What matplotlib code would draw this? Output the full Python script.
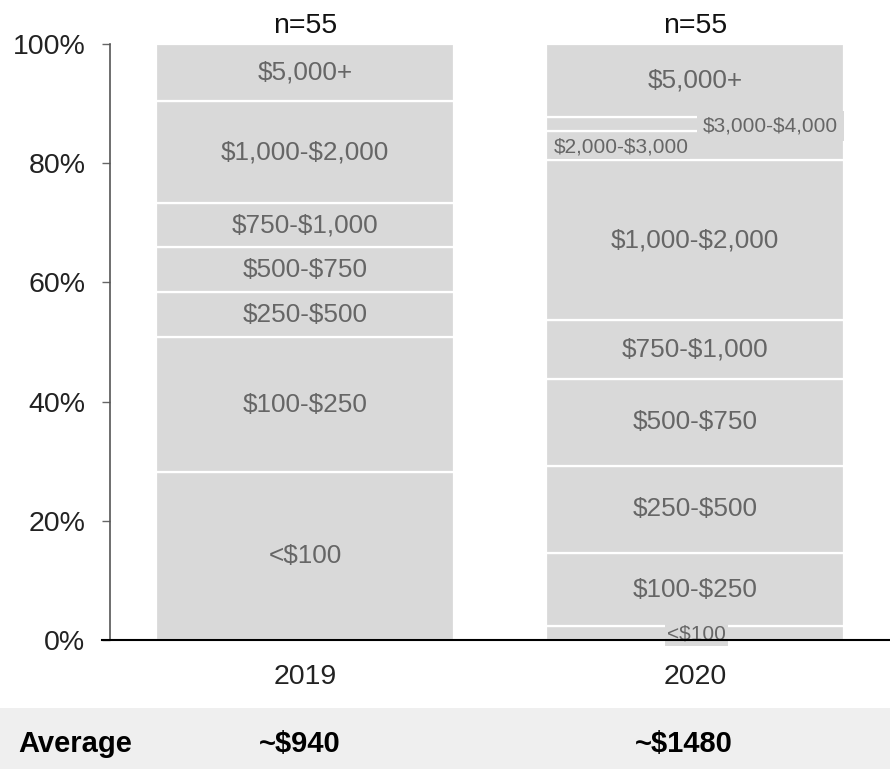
import matplotlib
matplotlib.use("Agg")
import matplotlib.pyplot as plt
from matplotlib.patches import Rectangle
from matplotlib.lines import Line2D

plt.rcParams['font.family'] = ['Liberation Sans', 'DejaVu Sans']
plt.rcParams['text.parse_math'] = False

years = ["2019", "2020"]
sample_sizes = ["n=55", "n=55"]
averages = ["~$940", "~$1480"]

# Share of respondents (%) by spend bracket, bottom to top
labels_2019 = ["<$100", "$100-$250", "$250-$500", "$500-$750", "$750-$1,000",
               "$1,000-$2,000", "$5,000+"]
shares_2019 = [28.2, 22.6, 7.6, 7.5, 7.4, 17.1, 9.6]

labels_2020 = ["<$100", "$100-$250", "$250-$500", "$500-$750", "$750-$1,000",
               "$1,000-$2,000", "$2,000-$3,000", "$3,000-$4,000", "$5,000+"]
shares_2020 = [2.3, 12.3, 14.6, 14.6, 9.9, 26.8, 4.9, 2.4, 12.2]

BAR = "#d9d9d9"
TXT = "#666666"

fig = plt.figure(figsize=(8.9, 7.69), dpi=100)
ax = fig.add_axes([110 / 890, 1 - 640 / 769, 780 / 890, 596 / 769])
ax.set_xlim(-0.5, 1.5)
ax.set_ylim(0, 100)

width = 0.764
# thin brackets in 2020 get smaller, offset labels with a bar-coloured backing
small_pos = {"<$100": (1.003, 1.5), "$2,000-$3,000": (0.81, 1.5),
             "$3,000-$4,000": (1.194, 4.0)}

for xi, (labs, vals) in enumerate([(labels_2019, shares_2019), (labels_2020, shares_2020)]):
    bottom = 0
    for lab, v in zip(labs, vals):
        ax.bar(xi, v, width=width, bottom=bottom, color=BAR,
               edgecolor="white", linewidth=1.6, zorder=2)
        mid = bottom + v / 2
        if xi == 1 and lab in small_pos:
            tx, pad = small_pos[lab]
            ty = 1.0 if lab == "<$100" else mid - 0.3
            ax.text(tx, ty, lab, ha="center", va="center", fontsize=15,
                    color=TXT, zorder=4,
                    bbox=dict(facecolor=BAR, edgecolor="none", pad=pad))
        else:
            ax.text(xi, mid, lab, ha="center", va="center", fontsize=18.8,
                    color=TXT, zorder=4)
        bottom += v

for xi, n in enumerate(sample_sizes):
    ax.text(xi, 100.8, n, ha="center", va="bottom", fontsize=20.5, color="#111111")

ax.set_yticks(range(0, 101, 20))
ax.set_yticklabels([f"{t}%" for t in range(0, 101, 20)], fontsize=20.5, color="#222222")
ax.set_xticks([0, 1])
ax.set_xticklabels(years, fontsize=20.5, color="#222222")
ax.tick_params(axis="x", length=0, pad=17)
ax.tick_params(axis="y", length=5.8, width=1, color="#666666", pad=12)
for s in ["top", "right", "bottom"]:
    ax.spines[s].set_visible(False)
ax.spines["left"].set_color("#555555")
ax.spines["left"].set_linewidth(1.2)

# Baseline extending slightly past the left axis
fig.add_artist(Line2D([102 / 890, 1.0], [1 - 640 / 769] * 2, color="black",
                      linewidth=1.5, transform=fig.transFigure, zorder=3))

# Summary band with averages
fig.add_artist(Rectangle((0, 0), 1, 61 / 769, transform=fig.transFigure,
                         facecolor="#efefef", edgecolor="none", zorder=0))
yb = 1 - 744 / 769
fig.text(18 / 890, yb, "Average", fontsize=21, fontweight="bold",
         va="center", ha="left", color="black")
fig.text(300 / 890, yb, averages[0], fontsize=21, fontweight="bold",
         va="center", ha="center", color="black")
fig.text(684 / 890, yb, averages[1], fontsize=21, fontweight="bold",
         va="center", ha="center", color="black")

fig.savefig("out.png", dpi=100)
